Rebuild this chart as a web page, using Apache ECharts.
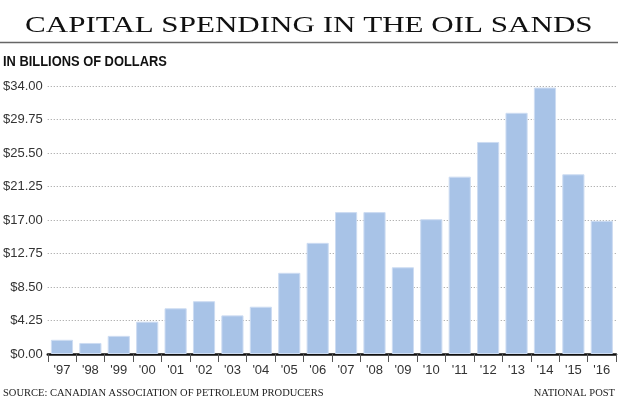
<!DOCTYPE html>
<html>
<head>
<meta charset="utf-8">
<script src="https://cdn.jsdelivr.net/npm/echarts@6/dist/echarts.min.js"></script>
<style>html,body{margin:0;padding:0;background:#fff}#c{width:620px;height:411px}</style>
</head>
<body>
<div id="c"></div>
<script>
const years = ["'97","'98","'99","'00","'01","'02","'03","'04","'05","'06","'07","'08","'09","'10","'11","'12","'13","'14","'15","'16"];
const spending = [1.8,1.4,2.3,4.1,5.8,6.7,4.9,6.0,10.3,14.1,18.0,18.0,11.0,17.1,22.5,26.9,30.6,33.8,22.8,16.9];
const yTicks = [0,4.25,8.5,12.75,17,21.25,25.5,29.75,34];
const titleText = 'CAPITAL SPENDING IN THE OIL SANDS';
const subtitleText = 'IN BILLIONS OF DOLLARS';
const sourceText = 'SOURCE: CANADIAN ASSOCIATION OF PETROLEUM PRODUCERS';
const creditText = 'NATIONAL POST';

const chart = echarts.init(document.getElementById('c'), null, {renderer:'canvas'});
chart.setOption({
  animation:false,
  backgroundColor:'#fff',
  grid:{left:44,right:4,top:86,bottom:57,containLabel:false},
  xAxis:{
    type:'category',data:years,boundaryGap:true,
    axisLine:{lineStyle:{color:'#111',width:2.5}},
    axisTick:{show:true,alignWithLabel:false,length:8,lineStyle:{color:'#555',width:1}},
    axisLabel:{color:'#333',fontSize:13,fontFamily:'Liberation Sans, Arial',margin:10,interval:0}
  },
  yAxis:{
    type:'value',min:yTicks[0],max:yTicks[yTicks.length-1],interval:yTicks[1]-yTicks[0],
    axisLine:{show:false},axisTick:{show:false},
    axisLabel:{color:'#333',fontSize:13,fontFamily:'Liberation Sans, Arial',margin:5,
      formatter:v=>'$'+v.toFixed(2)},
    splitLine:{lineStyle:{color:'#9a9a9a',width:1,type:[1,2]}}
  },
  series:[{
    type:'bar',data:spending,barCategoryGap:'22%',
    itemStyle:{color:'#a8c3e7',borderColor:'#cddcf2',borderWidth:1}
  }],
  graphic:[
    {type:'text',x:25,y:26,scaleX:1.35,style:{text:titleText,font:'23px "Liberation Serif", serif',fill:'#111',textAlign:'left',textVerticalAlign:'middle'}},
    {type:'line',shape:{x1:0,y1:42.5,x2:618,y2:42.5},style:{stroke:'#666',lineWidth:1.5}},
    {type:'text',x:3,y:62,scaleX:0.92,style:{text:subtitleText,font:'bold 14px "Liberation Sans", sans-serif',fill:'#111',textAlign:'left',textVerticalAlign:'middle'}},
    {type:'text',x:3,y:393,style:{text:sourceText,font:'10.5px "Liberation Serif", serif',fill:'#222',textAlign:'left',textVerticalAlign:'middle'}},
    {type:'text',x:615,y:393,style:{text:creditText,font:'10.5px "Liberation Serif", serif',fill:'#222',textAlign:'right',textVerticalAlign:'middle'}}
  ]
});
</script>
</body>
</html>
